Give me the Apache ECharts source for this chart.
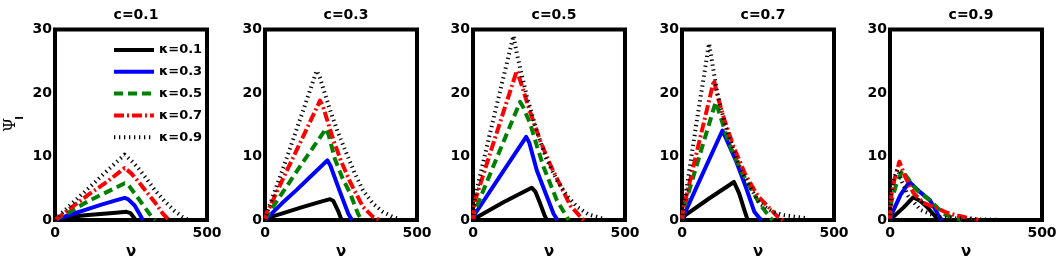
<!DOCTYPE html>
<html>
<head>
<meta charset="utf-8">
<script src="https://cdn.jsdelivr.net/npm/echarts@6/dist/echarts.min.js"></script>
<style>
html,body{margin:0;padding:0;background:#fff;}
#chart{width:1060px;height:265px;}
</style>
</head>
<body>
<div id="chart"></div>
<script>
// ---------- data ----------
const panelTitles = ['c=0.1', 'c=0.3', 'c=0.5', 'c=0.7', 'c=0.9'];
const kappaNames = ['κ=0.1', 'κ=0.3', 'κ=0.5', 'κ=0.7', 'κ=0.9'];
const xTicks = [0, 500];
const yTicks = [0, 10, 20, 30];

// c = 0.1
const c01_k01 = [[0,0],[20,0.25],[60,0.55],[100,0.75],[150,0.95],[200,1.15],[235,1.3],[248,1.1],[258,0.5],[265,0]];
const c01_k03 = [[0,0],[16,0.3],[60,1.0],[100,1.6],[150,2.4],[200,3.1],[229,3.5],[240,3.3],[262,2.3],[280,0.8],[289,0]];
const c01_k05 = [[0,0],[20,0.6],[60,1.6],[110,3.0],[170,4.4],[229,5.8],[240,5.6],[262,4.2],[294,2.1],[318,0.5],[330,0]];
const c01_k07 = [[0,0],[22,0.8],[60,2.2],[110,4.0],[170,6.0],[229,8.2],[250,7.4],[272,6.2],[300,4.5],[327,2.9],[355,1.0],[375,0]];
const c01_k09 = [[0,0],[20,1.0],[60,2.8],[110,5.0],[170,7.7],[229,10.3],[250,9.4],[272,8.3],[300,6.6],[327,4.8],[360,3.0],[392,1.5],[420,0.5],[440,0]];

// c = 0.3
const c03_k01 = [[0,0],[20,0.5],[60,1.1],[120,2.0],[170,2.7],[214,3.3],[225,3.0],[240,1.5],[252,0]];
const c03_k03 = [[0,0],[6,0.3],[55,2.6],[105,4.8],[155,7.1],[205,9.4],[215,8.6],[247,4.4],[274,1.0],[286,0]];
const c03_k05 = [[0,0],[11,1.0],[70,5.2],[126,9.2],[201,14.4],[210,13.3],[230,9.6],[255,6.6],[280,4.2],[306,1.0],[318,0]];
const c03_k07 = [[0,0],[5,1.2],[16,2.1],[71,7.7],[126,13.2],[181,18.8],[190,18.0],[225,12.6],[250,9.3],[280,6.0],[322,2.1],[355,0.5],[378,0]];
const c03_k09 = [[0,0],[5,1.0],[60,8.2],[120,16.5],[170,23.5],[180,22.5],[214,17.3],[240,13.8],[268,10.5],[295,7.4],[322,4.7],[355,2.6],[388,1.3],[420,0.5],[450,0]];

// c = 0.5
const c05_k01 = [[0,0],[7,0.3],[100,2.8],[193,5.1],[205,4.5],[221,2.6],[235,0.8],[243,0]];
const c05_k03 = [[0,0],[7,1.0],[90,7.0],[175,13.1],[185,12.2],[210,7.8],[243,3.7],[265,1.0],[278,0]];
const c05_k05 = [[0,0],[5,1.2],[12,2.1],[80,10.0],[155,18.6],[165,17.8],[188,15.2],[210,11.7],[232,8.4],[255,5.6],[276,3.1],[300,1.2],[315,0]];
const c05_k07 = [[0,0],[3,2.0],[7,3.1],[75,13.3],[144,23.5],[155,22.0],[188,17.0],[221,12.5],[255,8.6],[290,5.2],[320,2.3],[350,0.7],[364,0]];
const c05_k09 = [[0,0],[3,2.2],[7,3.7],[70,16.5],[133,29.0],[145,26.0],[177,19.5],[210,14.0],[240,9.8],[276,6.3],[310,3.8],[342,2.1],[380,0.9],[430,0.2],[437,0]];

// c = 0.7
const c07_k01 = [[0,0],[11,0.8],[89,3.4],[171,6.0],[188,4.2],[205,1.6],[216,0]];
const c07_k03 = [[0,0],[11,1.3],[70,7.5],[133,14.1],[177,9.4],[210,5.2],[238,1.3],[255,0.3],[262,0]];
const c07_k05 = [[0,0],[5,1.5],[11,2.6],[60,10.5],[111,18.6],[125,16.5],[155,12.0],[199,7.3],[255,2.6],[288,0.5],[298,0]];
const c07_k07 = [[0,0],[4,2.0],[11,3.1],[60,13.0],[105,22.0],[120,19.0],[138,16.0],[170,11.5],[210,7.0],[250,3.8],[293,1.6],[315,0.5],[332,0]];
const c07_k09 = [[0,0],[5,2.5],[11,3.7],[50,16.0],[89,27.8],[116,20.0],[144,14.6],[194,7.8],[255,2.6],[300,1.3],[332,0.8],[410,0.3],[415,0]];

// c = 0.9
const c09_k01 = [[0,0],[11,0.5],[45,2.0],[77,3.6],[100,3.0],[121,2.1],[145,0.8],[158,0]];
const c09_k03 = [[0,0],[9,1.3],[35,4.0],[64,6.0],[99,4.4],[132,3.1],[150,1.6],[162,0.5],[172,0]];
const c09_k05 = [[0,0],[5,3.0],[20,5.5],[40,7.8],[70,5.8],[88,4.7],[132,3.1],[155,2.0],[176,1.0],[200,0.5],[225,0.2],[235,0]];
const c09_k07 = [[0,0],[3,3.5],[15,6.5],[31,9.2],[50,6.8],[77,4.3],[110,2.7],[154,1.9],[185,1.2],[214,0.8],[250,0.4],[285,0.1],[290,0]];
const c09_k09 = [[0,0],[3,4.0],[12,6.5],[25,8.0],[40,6.0],[60,3.8],[82,2.6],[100,1.6],[130,1.0],[160,0.5],[200,0.3],[250,0.2],[300,0.1],[357,0.05],[360,0]];

const panels = [
  [c01_k01, c01_k03, c01_k05, c01_k07, c01_k09],
  [c03_k01, c03_k03, c03_k05, c03_k07, c03_k09],
  [c05_k01, c05_k03, c05_k05, c05_k07, c05_k09],
  [c07_k01, c07_k03, c07_k05, c07_k07, c07_k09],
  [c09_k01, c09_k03, c09_k05, c09_k07, c09_k09]
];

// ---------- styles ----------
const FONT = 'DejaVu Sans';
const lineStyles = [
  {color:'#000000', width:4, type:'solid'},
  {color:'#0000ff', width:4, type:'solid'},
  {color:'#008000', width:4, type:[9,5]},
  {color:'#ff0000', width:4, type:[10,3,2,3]},
  {color:'#000000', width:4, type:[1.3,3.7]}
];
const gridLefts = [55, 265, 473, 682, 890];
const gridW = 152, gridTop = 29.5, gridH = 191;

const grids = [], xAxes = [], yAxes = [], series = [], titles = [];
panels.forEach((curves, p) => {
  grids.push({left: gridLefts[p], top: gridTop, width: gridW, height: gridH,
    show: true, borderColor: '#000', borderWidth: 4, backgroundColor: '#fff', containLabel: false});
  xAxes.push({gridIndex: p, type: 'value', min: xTicks[0], max: xTicks[xTicks.length-1], interval: 500,
    name: 'ν', nameLocation: 'middle', nameGap: 22,
    nameTextStyle: {fontFamily: FONT, fontWeight: 'bold', fontSize: 15, color: '#000'},
    axisLine: {show: false}, axisTick: {show: false}, splitLine: {show: false},
    axisLabel: {margin: 6, fontFamily: FONT, fontWeight: 'bold', fontSize: 14, color: '#000'}});
  yAxes.push({gridIndex: p, type: 'value', min: yTicks[0], max: yTicks[yTicks.length-1], interval: 10,
    axisLine: {show: false}, axisTick: {show: false}, splitLine: {show: false},
    axisLabel: {margin: 3, fontFamily: FONT, fontWeight: 'bold', fontSize: 14, color: '#000'}});
  titles.push({text: panelTitles[p], left: gridLefts[p] + gridW/2, top: 3, textAlign: 'center',
    textStyle: {fontFamily: FONT, fontWeight: 'bold', fontSize: 14, color: '#000'}});
  curves.forEach((data, k) => {
    series.push({type: 'line', name: kappaNames[k], xAxisIndex: p, yAxisIndex: p,
      data: data, symbol: 'none', smooth: false, animation: false,
      lineStyle: Object.assign({cap: 'butt', join: 'round'}, lineStyles[k]),
      itemStyle: {color: lineStyles[k].color}, clip: true, z: 2 + k});
  });
});

const chart = echarts.init(document.getElementById('chart'), null, {renderer: 'canvas'});
chart.setOption({
  animation: false,
  backgroundColor: '#fff',
  title: titles,
  grid: grids,
  xAxis: xAxes,
  yAxis: yAxes,
  legend: {
    data: kappaNames, orient: 'vertical', left: 112, top: 43.5, padding: 0,
    itemWidth: 40, itemHeight: 14, itemGap: 8.8,
    itemStyle: {opacity: 0},
    lineStyle: {width: 4},
    textStyle: {fontFamily: FONT, fontWeight: 'bold', fontSize: 13, color: '#000'},
    selectedMode: false, backgroundColor: 'transparent'
  },
  graphic: [
    {type: 'text', x: 11, y: 125, rotation: Math.PI/2,
     style: {text: 'Ψ', fontFamily: 'DejaVu Serif', fontSize: 16, fill: '#000', align: 'center', verticalAlign: 'middle'}},
    {type: 'text', x: 20, y: 118, rotation: Math.PI/2,
     style: {text: 'I', fontFamily: FONT, fontWeight: 'bold', fontSize: 10, fill: '#000', align: 'center', verticalAlign: 'middle'}}
  ],
  series: series
});
</script>
</body>
</html>
